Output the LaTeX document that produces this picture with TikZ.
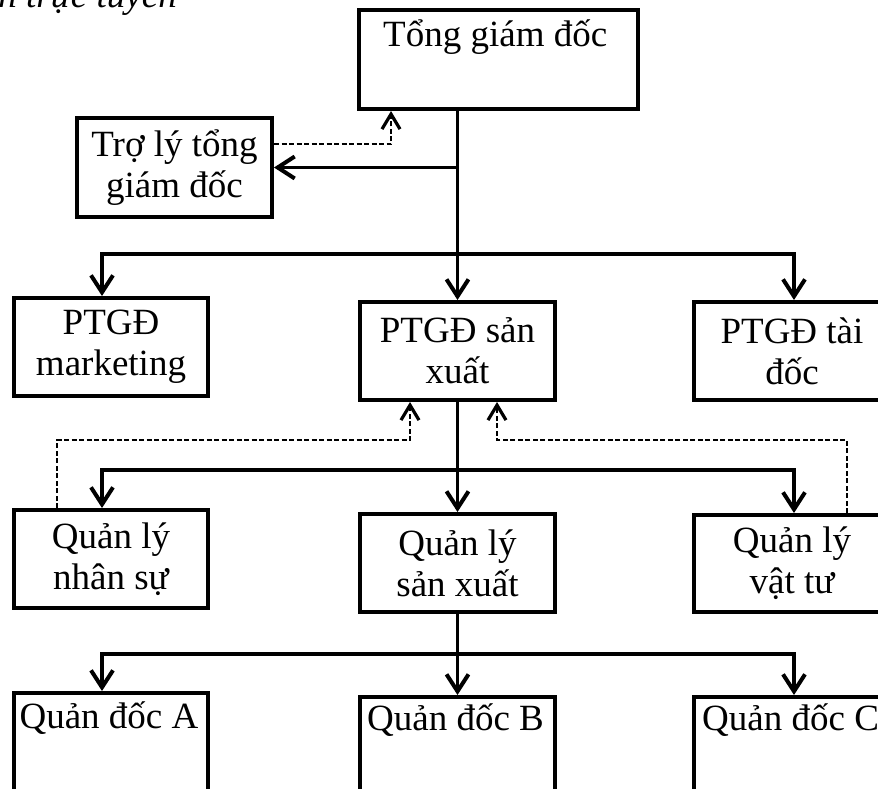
\documentclass[tikz,border=0pt]{standalone}
\usepackage{fontspec}
\setmainfont{Liberation Serif}
\usetikzlibrary{arrows.meta,calc}
\newcommand\bodyfs{\fontsize{37}{41}\selectfont}
\tikzset{
  box/.style={draw, line width=4pt, rectangle, inner sep=0pt, anchor=north west, font=\bodyfs, align=center},
  conn/.style={line width=3.5pt, -{Straight Barb[length=17pt,width=22pt,line width=4pt]}},
  dconn/.style={line width=2pt, dash pattern=on 5pt off 2.5pt, -{Straight Barb[length=15pt,width=18pt,line width=3.2pt]}},
  txt/.style={font=\bodyfs, inner sep=0pt},
}
\begin{document}
\begin{tikzpicture}[x=1pt,y=-1pt]
\useasboundingbox (0,0) rectangle (878,789);
\clip (0,0) rectangle (878,789);
% title (cut off at top)
\node[txt, anchor=base east, font=\bodyfs\itshape] (title) at (177,8) {n trực tuyến};
% boxes
\node[box, minimum width=279pt, minimum height=99pt] (tgd) at (357,8) {};
\node[txt, anchor=base west] (tgdt) at (383,47) {Tổng giám đốc};
\node[box, minimum width=195pt, minimum height=99pt] (tl) at (75,116) {Trợ lý tổng\\giám đốc};
\node[box, minimum width=194pt, minimum height=98pt] (mk) at (12,296) {PTGĐ\\marketing};
\node[box, minimum width=195pt, minimum height=98pt] (sx) at (358,300) {PTGĐ sản\\xuất};
\node[box, minimum width=196pt, minimum height=98pt] (tai) at (692,300) {PTGĐ tài\\đốc};
\node[box, minimum width=194pt, minimum height=98pt] (ns) at (12,508) {Quản lý\\nhân sự};
\node[box, minimum width=195pt, minimum height=98pt] (qs) at (358,512) {Quản lý\\sản xuất};
\node[box, minimum width=196pt, minimum height=97pt] (vt) at (692,513) {Quản lý\\vật tư};
\node[box, minimum width=194pt, minimum height=120pt] (qa) at (12,691) {};
\node[box, minimum width=195pt, minimum height=120pt] (qb) at (358,695) {};
\node[box, minimum width=196pt, minimum height=120pt] (qc) at (692,695) {};
\node[txt, anchor=base] (qat) at (109,728) {Quản đốc A};
\node[txt, anchor=base] (qbt) at (455.5,730) {Quản đốc B};
\node[txt, anchor=base west] (qct) at (702,730) {Quản đốc C};
% branch points
\coordinate (b1) at ($(sx.north)+(0,-46)$);
\coordinate (b2) at ($(sx.south)+(0,68)$);
\coordinate (b3) at ($(qs.south)+(0,40)$);
% solid connectors
\draw[conn] (tgd.south -| sx.north) -- (sx.north);
\draw[conn] (tl.east -| sx.north) -- (tl.east);
\draw[conn] (b1) -| ([xshift=-9pt]mk.north);
\draw[conn] (b1) -| ([xshift=2pt]tai.north);
\draw[conn] (sx.south) -- (qs.north);
\draw[conn] (b2) -| ([xshift=-9pt]ns.north);
\draw[conn] (b2) -| ([xshift=2pt]vt.north);
\draw[conn] (qs.south) -- (qb.north);
\draw[conn] (b3) -| ([xshift=-9pt]qa.north);
\draw[conn] (b3) -| ([xshift=2pt]qc.north);
% dashed feedback connectors
\draw[dconn] ($(tl.east)+(0,-23)$) -| ($(tgd.south west)+(34,0)$);
\draw[dconn] ($(ns.north west)+(45,0)$) |- ($(sx.south west)+(52,38)$) -- ($(sx.south west)+(52,0)$);
\draw[dconn] ($(vt.north west)+(155,0)$) |- ($(sx.south west)+(139,38)$) -- ($(sx.south west)+(139,0)$);
\end{tikzpicture}
\end{document}
